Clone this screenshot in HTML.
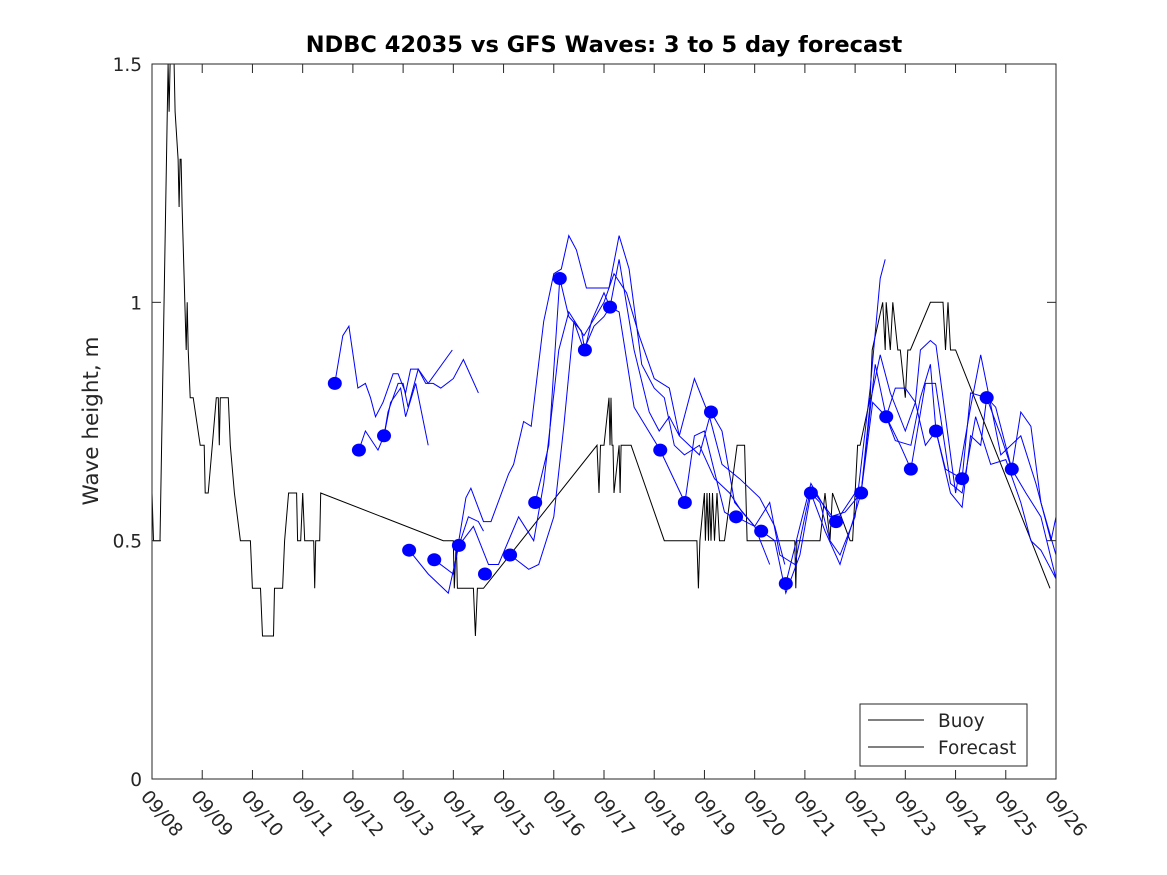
<!DOCTYPE html>
<html><head><meta charset="utf-8"><style>
body{margin:0;background:#fff;}
svg{display:block;font-family:"DejaVu Sans","Liberation Sans",sans-serif;}
</style></head><body>
<svg id="chart" width="1167" height="875">
<rect x="0" y="0" width="1167" height="875" fill="#fff"/>
<text x="604" y="52" text-anchor="middle" font-size="22.5" font-weight="bold">NDBC 42035 vs GFS Waves: 3 to 5 day forecast</text>
<text transform="translate(98,421) rotate(-90)" text-anchor="middle" font-size="21.5" fill="#262626">Wave height, m</text>
<g id="plot"></g>
<rect x="152" y="64" width="904" height="715" fill="none" stroke="#262626" stroke-width="1"/>
<g id="axes"></g>
<g>
<rect x="860" y="704" width="167" height="62" fill="#fff" stroke="#262626"/>
<line x1="868" y1="720" x2="924" y2="720" stroke="#000"/>
<text x="938" y="727" font-size="18.5" fill="#262626">Buoy</text>
<line x1="868" y1="747" x2="924" y2="747" stroke="#000"/>
<text x="938" y="754" font-size="18.5" fill="#262626">Forecast</text>
</g>
</svg>
<script>
const xTickLabels=["09/08","09/09","09/10","09/11","09/12","09/13","09/14","09/15","09/16","09/17","09/18","09/19","09/20","09/21","09/22","09/23","09/24","09/25","09/26"];
const yTickValues=[0,0.5,1,1.5];
const yTickLabels=["0","0.5","1","1.5"];
const buoyDays=[0,0.03,0.16,0.32,0.34,0.36,0.44,0.46,0.52,0.54,0.56,0.58,0.60,0.68,0.7,0.72,0.76,0.82,0.96,1.04,1.06,1.12,1.2,1.28,1.32,1.34,1.36,1.52,1.56,1.64,1.76,1.96,2.0,2.16,2.2,2.42,2.44,2.6,2.64,2.72,2.88,2.9,2.96,3.0,3.04,3.22,3.24,3.26,3.34,3.36,5.8,6.0,6.02,6.06,6.08,6.1,6.4,6.44,6.48,6.6,8.86,8.9,8.93,8.96,9.0,9.1,9.12,9.14,9.16,9.18,9.2,9.3,9.32,9.34,9.54,10.2,10.85,10.88,10.91,11.0,11.02,11.05,11.08,11.1,11.13,11.16,11.2,11.25,11.3,11.4,11.65,11.8,11.85,12.4,12.8,12.82,12.84,13.3,13.4,13.5,13.55,13.9,13.95,14.05,14.1,14.3,14.34,14.55,14.6,14.62,14.7,14.75,14.85,14.9,15.0,15.05,15.1,15.5,15.75,15.8,15.85,15.9,16.0,17.88];
const buoyValues=[0.6,0.5,0.5,1.5,1.4,1.5,1.5,1.4,1.3,1.2,1.3,1.3,1.2,0.9,1.0,0.9,0.8,0.8,0.7,0.7,0.6,0.6,0.7,0.8,0.8,0.7,0.8,0.8,0.7,0.6,0.5,0.5,0.4,0.4,0.3,0.3,0.4,0.4,0.5,0.6,0.6,0.5,0.5,0.6,0.5,0.5,0.4,0.5,0.5,0.6,0.5,0.5,0.4,0.5,0.4,0.4,0.4,0.3,0.4,0.4,0.7,0.6,0.7,0.7,0.7,0.8,0.7,0.8,0.7,0.7,0.6,0.7,0.6,0.7,0.7,0.5,0.5,0.4,0.5,0.6,0.5,0.6,0.5,0.6,0.5,0.6,0.5,0.6,0.5,0.5,0.7,0.7,0.5,0.5,0.5,0.4,0.5,0.5,0.6,0.5,0.6,0.5,0.5,0.7,0.7,0.8,0.9,1.0,0.9,1.0,0.9,1.0,0.9,0.9,0.8,0.9,0.9,1.0,1.0,0.9,1.0,0.9,0.9,0.4];
const dotDays=[3.64,4.12,4.62,5.12,5.62,6.11,6.63,7.13,7.63,8.12,8.62,9.12,10.12,10.61,11.13,11.63,12.13,12.62,13.12,13.62,14.12,14.62,15.11,15.61,16.13,16.62,17.12];
const dotValues=[0.83,0.69,0.72,0.48,0.46,0.49,0.43,0.47,0.58,1.05,0.90,0.99,0.69,0.58,0.77,0.55,0.52,0.41,0.60,0.54,0.60,0.76,0.65,0.73,0.63,0.80,0.65];
const fcDays1=[3.64,3.8,3.92,4.1,4.25,4.35,4.45,4.6,4.8,4.9,5.05,5.15,5.3,5.45,5.6,5.75,6.0,6.2,6.5];
const fcVals1=[0.83,0.93,0.95,0.82,0.83,0.80,0.76,0.79,0.85,0.85,0.81,0.86,0.86,0.83,0.83,0.82,0.84,0.88,0.81];
const fcDays2=[4.12,4.25,4.5,4.62,4.7,4.9,5.0,5.1,5.3,5.5,5.98];
const fcVals2=[0.69,0.73,0.69,0.72,0.77,0.83,0.83,0.78,0.86,0.83,0.90];
const fcDays3=[4.62,4.75,4.95,5.05,5.25,5.5];
const fcVals3=[0.72,0.79,0.82,0.76,0.83,0.70];
const fcDays4=[5.12,5.5,5.9,6.11,6.3,6.5,6.6];
const fcVals4=[0.48,0.43,0.39,0.49,0.55,0.54,0.52];
const fcDays5=[5.62,6.0,6.25,6.35,6.6,6.75,7.1,7.2,7.4,7.55,7.8,8.0,8.15,8.3,8.45,8.65,8.85,9.1,9.3,9.5,9.75,10.0,10.2,10.4,10.6,10.9,11.2,11.5,11.75,12.0];
const fcVals5=[0.46,0.43,0.59,0.61,0.54,0.54,0.64,0.66,0.75,0.74,0.96,1.06,1.07,1.14,1.11,1.03,1.03,1.03,1.14,1.07,0.87,0.82,0.80,0.70,0.68,0.70,0.63,0.60,0.56,0.53];
const fcDays6=[6.11,6.4,6.7,6.9,7.3,7.6,7.8,8.1,8.3,8.6,9.0,9.2,9.45,9.7,10.0,10.3,10.5,10.8,11.1,11.35,11.7,12.1,12.4,12.6];
const fcVals6=[0.49,0.53,0.45,0.45,0.55,0.50,0.62,0.90,0.98,0.93,1.00,1.06,1.02,0.93,0.84,0.82,0.72,0.84,0.76,0.66,0.63,0.59,0.53,0.45];
const fcDays7=[7.13,7.5,7.7,8.0,8.2,8.4,8.6,8.8,9.0,9.12,9.3,9.6,9.9,10.1,10.3,10.5,10.9,11.13,11.35,11.6,12.0,12.3];
const fcVals7=[0.47,0.44,0.45,0.55,0.74,0.96,0.90,0.95,0.97,0.99,1.09,0.90,0.77,0.73,0.76,0.72,0.68,0.77,0.73,0.58,0.53,0.45];
const fcDays8=[7.63,7.9,8.12,8.3,8.55,8.62,8.75,9.0,9.12,9.3,9.6,10.12,10.61,10.8,11.0,11.4,11.7];
const fcVals8=[0.58,0.70,1.05,0.97,0.94,0.90,0.96,1.02,0.99,0.98,0.78,0.69,0.58,0.72,0.73,0.56,0.54];
const fcDays9=[12.13,12.4,12.62,12.9,13.12,13.3,13.5,13.7,14.0,14.3,14.5,14.6];
const fcVals9=[0.52,0.50,0.39,0.47,0.60,0.58,0.50,0.47,0.55,0.82,1.05,1.09];
const fcDays10=[12.62,12.9,13.12,13.5,13.8,14.12,14.3,14.5,14.7,15.0,15.2,15.4,15.61,15.8,16.13,16.3,16.62,16.9,17.12,17.4,17.7,18.0];
const fcVals10=[0.41,0.53,0.62,0.55,0.56,0.60,0.79,0.89,0.81,0.73,0.79,0.70,0.73,0.65,0.63,0.81,0.80,0.72,0.65,0.60,0.55,0.42];
const fcDays11=[11.63,12.0,12.3,12.5,12.8,13.12,13.62,14.0,14.12,14.4,14.62,14.9,15.11,15.4,15.6,15.9,16.13,16.4,16.7,17.0,17.3,17.5,17.7,18.0];
const fcVals11=[0.55,0.53,0.58,0.47,0.45,0.61,0.54,0.60,0.60,0.87,0.76,0.70,0.65,0.83,0.83,0.62,0.60,0.76,0.66,0.67,0.58,0.50,0.48,0.42];
const fcDays12=[13.12,13.4,13.7,14.12,14.35,14.62,14.8,15.11,15.3,15.5,15.61,15.9,16.13,16.3,16.5,16.62,16.8,17.12,17.3,17.5,17.7,18.0];
const fcVals12=[0.60,0.52,0.45,0.60,0.79,0.76,0.71,0.70,0.80,0.87,0.73,0.60,0.57,0.72,0.70,0.80,0.78,0.65,0.77,0.74,0.58,0.47];
const fcDays13=[14.62,14.8,15.0,15.2,15.3,15.5,15.61,16.0,16.3,16.5,16.9,17.3,17.6,17.9,18.0];
const fcVals13=[0.76,0.82,0.82,0.79,0.90,0.92,0.91,0.60,0.78,0.89,0.68,0.72,0.62,0.50,0.55];

const X0=152,X1=1056,Y0=779,Y1=64,NDAYS=18,YMAX=1.5;
function xs(d){return X0+(X1-X0)*d/NDAYS;}
function ys(v){return Y0-(Y0-Y1)*v/YMAX;}
const NS="http://www.w3.org/2000/svg";
const plot=document.getElementById('plot'),axes=document.getElementById('axes');
function mk(tag,attrs,parent){const e=document.createElementNS(NS,tag);for(const k in attrs)e.setAttribute(k,attrs[k]);parent.appendChild(e);return e;}
function pts(ds,vs){return ds.map((d,i)=>xs(d).toFixed(1)+","+ys(vs[i]).toFixed(1)).join(" ");}

const fcSets=[[fcDays1,fcVals1],[fcDays2,fcVals2],[fcDays3,fcVals3],[fcDays4,fcVals4],[fcDays5,fcVals5],[fcDays6,fcVals6],[fcDays7,fcVals7],[fcDays8,fcVals8],[fcDays9,fcVals9],[fcDays10,fcVals10],[fcDays11,fcVals11],[fcDays12,fcVals12],[fcDays13,fcVals13]];
const buoy=mk('polyline',{points:pts(buoyDays,buoyValues),fill:'none',stroke:'#000','stroke-width':1},plot);


fcSets.forEach((s,i)=>{
  const l=mk('polyline',{points:pts(s[0],s[1]),fill:'none',stroke:'#0000ff','stroke-width':1},plot);
  
  
});
dotDays.forEach((d,i)=>{
  const c=mk('ellipse',{cx:xs(d),cy:ys(dotValues[i]),rx:7,ry:6.5,fill:'#0000ff'},plot);
  
  
});
xTickLabels.forEach((lab,i)=>{
  const x=xs(i);
  mk('line',{x1:x,y1:Y0,x2:x,y2:Y0-9,stroke:'#262626'},axes);
  mk('line',{x1:x,y1:Y1,x2:x,y2:Y1+9,stroke:'#262626'},axes);
  const t=mk('text',{transform:`translate(${x-12},${797}) rotate(50)`,'font-size':18.5,fill:'#262626'},axes);
  t.textContent=lab;
  
  
});
yTickValues.forEach((v,i)=>{
  const y=ys(v);
  mk('line',{x1:X0,y1:y,x2:X0+9,y2:y,stroke:'#262626'},axes);
  mk('line',{x1:X1,y1:y,x2:X1-9,y2:y,stroke:'#262626'},axes);
  const t=mk('text',{x:X0-10,y:y+7,'text-anchor':'end','font-size':18.5,fill:'#262626'},axes);
  t.textContent=yTickLabels[i];
  
  
});
</script>
</body></html>
